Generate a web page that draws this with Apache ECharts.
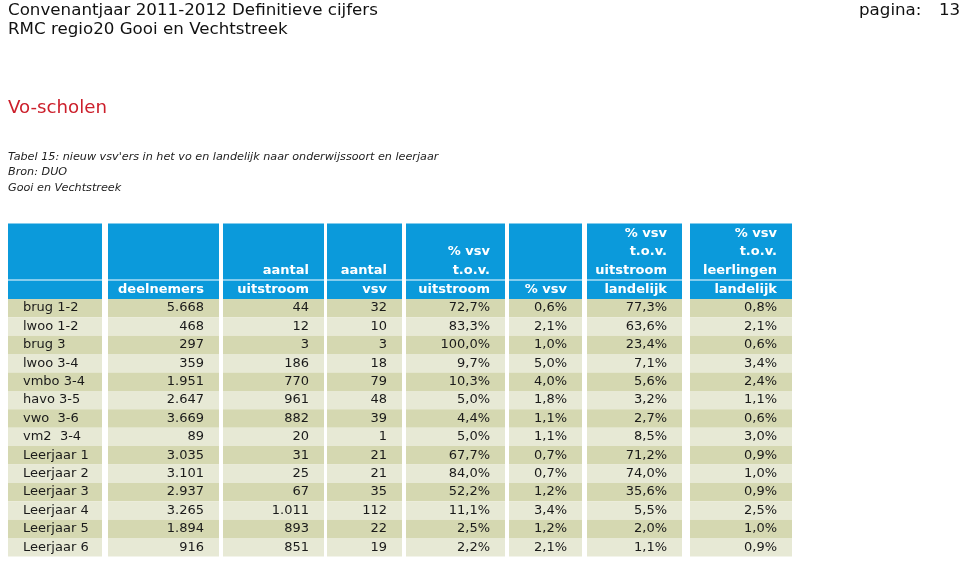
<!DOCTYPE html>
<html>
<head>
<meta charset="utf-8">
<script src="https://cdn.jsdelivr.net/npm/echarts@6/dist/echarts.min.js"></script>
<style>
html,body{margin:0;padding:0;background:#fff;}
#c{width:960px;height:562px;}
</style>
</head>
<body>
<div id="c"></div>
<script>
// ---- data ----
var rowLabels = ['brug 1-2','lwoo 1-2','brug 3','lwoo 3-4','vmbo 3-4','havo 3-5','vwo  3-6','vm2  3-4',
  'Leerjaar 1','Leerjaar 2','Leerjaar 3','Leerjaar 4','Leerjaar 5','Leerjaar 6'];
var deelnemers      = [5668, 468, 297, 359, 1951, 2647, 3669, 89, 3035, 3101, 2937, 3265, 1894, 916];
var aantalUitstroom = [44, 12, 3, 186, 770, 961, 882, 20, 31, 25, 67, 1011, 893, 851];
var aantalVsv       = [32, 10, 3, 18, 79, 48, 39, 1, 21, 21, 35, 112, 22, 19];
var pctVsvUitstroom = [72.7, 83.3, 100.0, 9.7, 10.3, 5.0, 4.4, 5.0, 67.7, 84.0, 52.2, 11.1, 2.5, 2.2];
var pctVsv          = [0.6, 2.1, 1.0, 5.0, 4.0, 1.8, 1.1, 1.1, 0.7, 0.7, 1.2, 3.4, 1.2, 2.1];
var pctUitstroomLandelijk = [77.3, 63.6, 23.4, 7.1, 5.6, 3.2, 2.7, 8.5, 71.2, 74.0, 35.6, 5.5, 2.0, 1.1];
var pctLeerlingenLandelijk = [0.8, 2.1, 0.6, 3.4, 2.4, 1.1, 0.6, 3.0, 0.9, 1.0, 0.9, 2.5, 1.0, 0.9];

var headerTop = [
  ['', '', ''],
  ['', '', ''],
  ['', '', 'aantal'],
  ['', '', 'aantal'],
  ['', '% vsv', 't.o.v.'],
  ['', '', ''],
  ['% vsv', 't.o.v.', 'uitstroom'],
  ['% vsv', 't.o.v.', 'leerlingen']
];
var headerBottom = ['', 'deelnemers', 'uitstroom', 'vsv', 'uitstroom', '% vsv', 'landelijk', 'landelijk'];

// ---- formatting ----
function fmtInt(n){ return String(n).replace(/\B(?=(\d{3})+(?!\d))/g, '.'); }
function fmtPct(p){ return p.toFixed(1).replace('.', ',') + '%'; }

var columns = [
  rowLabels,
  deelnemers.map(fmtInt),
  aantalUitstroom.map(fmtInt),
  aantalVsv.map(fmtInt),
  pctVsvUitstroom.map(fmtPct),
  pctVsv.map(fmtPct),
  pctUitstroomLandelijk.map(fmtPct),
  pctLeerlingenLandelijk.map(fmtPct)
];

// ---- layout (styles, not data) ----
var colBoxes = [[8,94],[108,111],[223,101],[327,75],[406,99],[509,73],[587,95],[690,102]];
var BLUE = '#0B9ADB', DARK = '#D5D8B1', LIGHT = '#E7E9D5';
var FONT = 'DejaVu Sans';

var grids = [], xAxes = [], yAxes = [], series = [];
colBoxes.forEach(function(box, c){
  var gTop = grids.length;
  grids.push({left: box[0], width: box[1], top: 223.5, height: 56});
  grids.push({left: box[0], width: box[1], top: 280.5, height: 276});
  [gTop, gTop+1].forEach(function(g){
    xAxes.push({type:'value', gridIndex:g, min:0, max:1, show:false});
  });
  yAxes.push({type:'category', gridIndex:gTop, data:['h'], inverse:true, show:false});
  var cats = ['hdr'].concat(rowLabels);
  yAxes.push({type:'category', gridIndex:gTop+1, data:cats, inverse:true, show:false});

  // header top
  series.push({
    type:'bar', xAxisIndex:gTop, yAxisIndex:gTop, barWidth:'100%', silent:true,
    data:[{value:1, itemStyle:{color:BLUE}}],
    label:{show:true, position:['100%','100%'], offset:[-15,0], align:'right', verticalAlign:'bottom',
      formatter: headerTop[c].join('\n'), color:'#fff', fontFamily:FONT, fontWeight:'bold', fontSize:13, lineHeight:18.5}
  });
  // body
  var leftAlign = (c === 0);
  var data = [{value:1, itemStyle:{color:BLUE},
    label:{formatter: headerBottom[c], color:'#fff', fontWeight:'bold'}}];
  columns[c].forEach(function(txt, i){
    data.push({value:1, itemStyle:{color: i % 2 === 0 ? DARK : LIGHT}, label:{formatter: txt}});
  });
  series.push({
    type:'bar', xAxisIndex:gTop+1, yAxisIndex:gTop+1, barWidth:'100%', silent:true,
    data:data,
    label:{show:true,
      position: leftAlign ? ['0%','50%'] : ['100%','50%'],
      offset: leftAlign ? [15,0] : [-15,0],
      align: leftAlign ? 'left' : 'right', verticalAlign:'middle',
      color:'#1a1a1a', fontFamily:FONT, fontSize:13}
  });
});

var titles = [
  {text:'Convenantjaar 2011-2012 Definitieve cijfers', left:8, top:1, padding:0,
    textStyle:{fontFamily:FONT, fontSize:16.7, fontWeight:'normal', color:'#111', lineHeight:20}},
  {text:'RMC regio20 Gooi en Vechtstreek', left:8, top:19.5, padding:0,
    textStyle:{fontFamily:FONT, fontSize:16.7, fontWeight:'normal', color:'#111', lineHeight:20}},
  {text:'pagina:', left:859, top:1, padding:0,
    textStyle:{fontFamily:FONT, fontSize:16.7, fontWeight:'normal', color:'#111', lineHeight:20}},
  {text:'13', left:939, top:1, padding:0,
    textStyle:{fontFamily:FONT, fontSize:16.7, fontWeight:'normal', color:'#111', lineHeight:20}},
  {text:'Vo-scholen', left:8, top:97, padding:0,
    textStyle:{fontFamily:FONT, fontSize:18.2, fontWeight:'normal', color:'#CC1F2B', lineHeight:22}},
  {text:"Tabel 15: nieuw vsv'ers in het vo en landelijk naar onderwijssoort en leerjaar\nBron: DUO\nGooi en Vechtstreek",
    left:8, top:149.25, padding:0,
    textStyle:{fontFamily:FONT, fontSize:11.2, fontStyle:'italic', fontWeight:'normal', color:'#222', lineHeight:15.5}}
];

var chart = echarts.init(document.getElementById('c'), null, {renderer:'canvas'});
chart.setOption({
  animation:false,
  backgroundColor:'#fff',
  title:titles,
  grid:grids,
  xAxis:xAxes,
  yAxis:yAxes,
  series:series
});
</script>
</body>
</html>
